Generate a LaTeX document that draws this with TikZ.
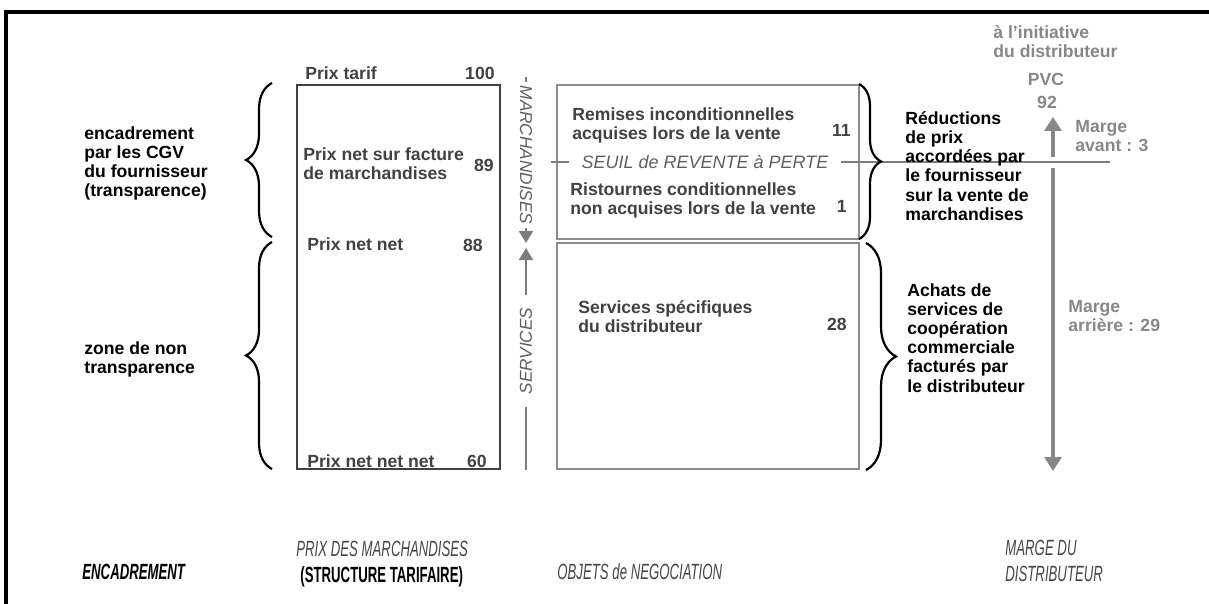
\documentclass[tikz,border=0pt]{standalone}
\usepackage{fontspec}
\setmainfont{Liberation Sans}
\newfontfamily\narrowfont[FakeStretch=0.6]{Liberation Sans}
\usepackage{xcolor}
\usetikzlibrary{arrows.meta, decorations.pathreplacing}
\definecolor{boxtext}{RGB}{65,65,65}
\definecolor{boxedge}{RGB}{140,140,140}
\definecolor{axisgray}{RGB}{125,125,125}
\definecolor{axistext}{RGB}{95,95,95}
\definecolor{margegray}{RGB}{135,135,135}
\definecolor{footgray}{RGB}{70,70,70}

\begin{document}
\begin{tikzpicture}[
    x=0.5pt, y=-0.5pt,
    every node/.style={inner sep=0pt, font=\fontsize{8.8}{9.6}\selectfont\bfseries},
    lbl/.style={anchor=north west, align=left},
    boxlbl/.style={lbl, text=boxtext},
    val/.style={anchor=base east, text=boxtext},
    margelbl/.style={lbl, text=margegray},
    prixbox/.style={draw=boxtext, line width=0.6pt, minimum width=101.5pt, minimum height=192pt},
    objbox/.style={draw=boxedge, line width=0.6pt, minimum width=151pt},
    curly/.style={decorate, decoration={brace, amplitude=#1, aspect=0.5}, line width=1.1pt},
    axislbl/.style={text=axistext, font=\fontsize{8.6}{9.6}\selectfont\itshape, inner xsep=1.5pt},
    axisline/.style={draw=axisgray, line width=1pt},
    marge/.style={draw=margegray, line width=1.6pt, -{Triangle[length=7pt, width=8.5pt]}},
    foot/.style={anchor=west, text=footgray, font=\fontsize{11}{13}\narrowfont\itshape}
]
\useasboundingbox (0,0) rectangle (1209,604);

% --- cadre ---
\draw[line width=1.6pt] (6,604) -- (6,12) -- (1209,12);

% --- structure tarifaire ---
\node[prixbox] (prix) at (398.5,277) {};
\node[anchor=base west, text=boxtext] (ptarif) at (305,80) {Prix tarif};
\node[val] (v100) at (495,80) {100};
\node[boxlbl] (pnf) at (303,147) {Prix net sur facture\\de marchandises};
\node[val] (v89) at (494,172) {89};
\node[anchor=base west, text=boxtext] (pnn) at (307,250) {Prix net net};
\node[val] (v88) at (483,251) {88};
\node[anchor=base west, text=boxtext] (pnnn) at (307,467) {Prix net net net};
\node[val] (v60) at (487,467) {60};

% --- axe marchandises / services ---
\coordinate (mtop) at (526,77);
\node[axislbl, rotate=-90] (march) at (526,155) {MARCHANDISES};
\coordinate (mtip) at (526,243);
\draw[axisline] (mtop) -- (march.west);
\draw[axisline, -{Triangle[length=6pt, width=7pt]}] (march.east) -- (mtip);
\coordinate (stip) at (526,248);
\node[axislbl, rotate=90, inner xsep=6pt] (serv) at (526,351) {SERVICES};
\coordinate (sbot) at (526,470);
\draw[axisline, -{Triangle[length=6pt, width=7pt]}] (serv.east) -- (stip);
\draw[axisline] (serv.west) -- (sbot);

% --- objets de negociation ---
\node[objbox, minimum height=77pt] (obj1) at (708,162) {};
\node[objbox, minimum height=113pt] (obj2) at (708,356) {};
\node[boxlbl] (remises) at (572,107) {Remises inconditionnelles\\acquises lors de la vente};
\node[val] (v11) at (851,137) {11};
\node[boxlbl] (ristournes) at (570,182) {Ristournes conditionnelles\\non acquises lors de la vente};
\node[val] (v1) at (847,213) {1};
\node[boxlbl] (services) at (578,300) {Services sp\'ecifiques\\du distributeur};
\node[val] (v28) at (847,330) {28};

% --- seuil de revente a perte ---
\coordinate (sgauche) at (551,162);
\node[text=axistext, font=\fontsize{9}{9.6}\selectfont\itshape, inner xsep=6pt] (seuil) at (705,162) {SEUIL de REVENTE \`a PERTE};
\coordinate (sdroite) at (1110,162);
\draw[axisgray, line width=0.8pt] (sgauche) -- (seuil.west);
\draw[axisgray, line width=0.8pt] (seuil.east) -- (sdroite);

% --- encadrement ---
\draw[curly=13pt] (272,237) -- (272,83);
\draw[curly=13pt] (272,469) -- (272,242);
\node[lbl] (enc1) at (84,126) {encadrement\\par les CGV\\du fournisseur\\(transparence)};
\node[lbl] (enc2) at (84,341) {zone de non\\transparence};

% --- accolades de droite ---
\draw[curly=11pt] (859,84) -- (859,239);
\draw[curly=15pt] (866,243) -- (866,470);
\node[lbl] (reduc) at (905,111) {R\'eductions\\de prix\\accord\'ees par\\le fournisseur\\sur la vente de\\marchandises};
\node[lbl] (achats) at (907,283) {Achats de\\services de\\coop\'eration\\commerciale\\factur\'es par\\le distributeur};

% --- marge du distributeur ---
\node[margelbl] (init) at (993,25) {\`a l'initiative\\du distributeur};
\node[anchor=base, text=margegray] (pvc) at (1046,86) {PVC};
\node[anchor=base, text=margegray] (v92) at (1047,109) {92};
\coordinate (avbas) at (1053,157);
\coordinate (avhaut) at (1053,117);
\draw[marge] (avbas) -- (avhaut);
\node[margelbl] (mav) at (1075,120) {Marge\\avant : 3};
\coordinate (arhaut) at (1053,168);
\coordinate (arbas) at (1053,471);
\draw[marge] (arhaut) -- (arbas);
\node[margelbl] (mar) at (1068,300) {Marge\\arri\`ere : 29};

% --- titres des colonnes ---
\node[foot, text=black, font=\fontsize{11}{13}\narrowfont\bfseries\itshape] (fenc) at (82,572) {ENCADREMENT};
\node[foot] (fprix) at (296,549) {PRIX DES MARCHANDISES};
\node[foot, text=black, font=\fontsize{11}{13}\narrowfont\bfseries] (fstruct) at (300,577) {(STRUCTURE TARIFAIRE)};
\node[foot] (fobj) at (557,572) {OBJETS de NEGOCIATION};
\node[foot, anchor=north west, align=left] (fmarge) at (1005,540) {MARGE DU\\DISTRIBUTEUR};
\end{tikzpicture}
\end{document}
